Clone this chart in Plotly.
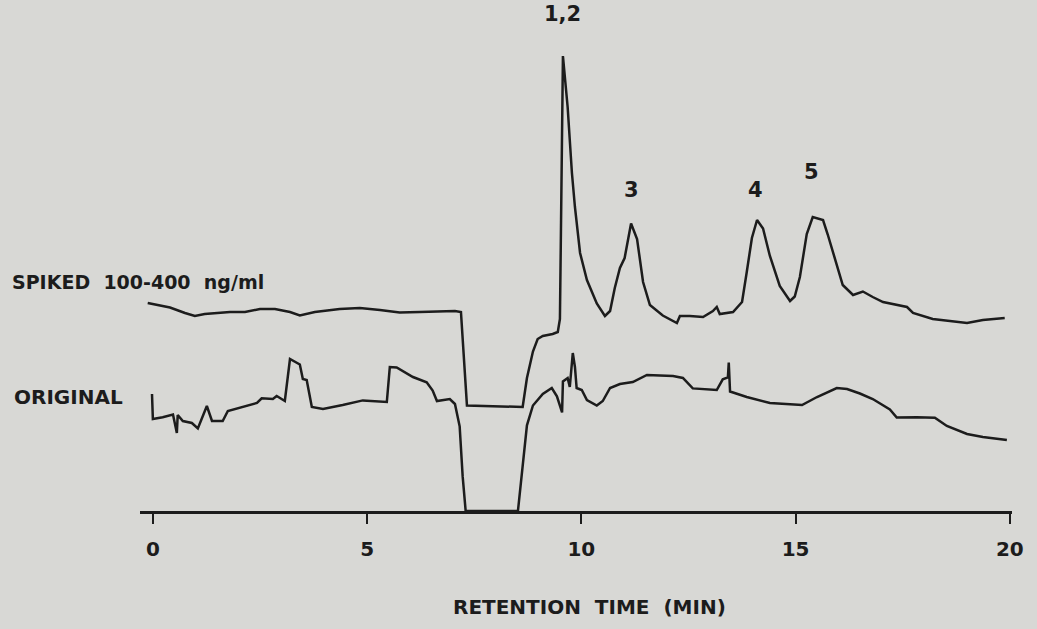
import plotly.graph_objects as go

# Retention time (min) and detector response (arbitrary units)
spiked_t = [-0.12, 0.40, 0.75, 0.98, 1.21, 1.80, 2.15, 2.50, 2.85, 3.20, 3.43, 3.78, 4.36, 4.83,
            5.30, 5.76, 6.23, 7.05, 7.19, 7.26, 7.33, 8.63, 8.73, 8.87, 8.98, 9.10, 9.33, 9.45,
            9.50, 9.57, 9.68, 9.78, 9.85, 9.97, 10.13, 10.36, 10.55, 10.67, 10.78, 10.90, 11.01,
            11.16, 11.30, 11.44, 11.60, 11.90, 12.23, 12.30, 12.53, 12.84, 13.07, 13.16, 13.23,
            13.54, 13.75, 13.86, 13.98, 14.10, 14.24, 14.40, 14.63, 14.87, 14.98, 15.10, 15.26,
            15.40, 15.64, 15.75, 15.96, 16.10, 16.34, 16.57, 16.80, 17.04, 17.60, 17.74, 18.20,
            19.00, 19.37, 19.88]
spiked_r = [208, 203.5, 198, 195, 197, 199, 199, 202, 202, 199, 195.5, 199, 202, 203,
            201, 198.5, 199, 200, 199, 155, 105.5, 104, 133, 159.5, 172, 175, 177, 179,
            192, 455, 404, 338, 304, 258, 231, 207.5, 195, 200, 223, 243, 253,
            287.5, 272, 229, 206, 195.5, 188, 195, 195, 194, 200, 204, 197,
            199, 209, 239, 273, 291, 282.5, 255, 225, 210, 214.5, 234, 277,
            294, 291, 276.5, 246, 226, 216, 219.5, 214, 209, 204, 198, 192,
            188, 191, 193]

original_t = [-0.02, 0.00, 0.23, 0.47, 0.56, 0.58, 0.70, 0.91, 1.05, 1.17, 1.26, 1.38, 1.63,
              1.75, 2.03, 2.43, 2.54, 2.80, 2.89, 3.08, 3.20, 3.43, 3.50, 3.59, 3.71, 3.97,
              4.43, 4.90, 5.46, 5.53, 5.69, 6.07, 6.39, 6.53, 6.63, 6.93, 7.05, 7.16, 7.23,
              7.30, 8.52, 8.61, 8.73, 8.87, 9.10, 9.31, 9.43, 9.55, 9.57, 9.68, 9.73, 9.80,
              9.85, 9.89, 10.01, 10.13, 10.36, 10.50, 10.67, 10.90, 11.20, 11.53, 11.83, 12.14,
              12.37, 12.60, 13.16, 13.30, 13.42, 13.44, 13.47, 13.86, 14.40, 15.15, 15.50,
              15.96, 16.20, 16.50, 16.80, 17.20, 17.36, 17.83, 18.25, 18.53, 19.00, 19.37, 19.93]
original_r = [117, 92, 93.7, 96.4, 78, 96, 90, 88, 82.6, 94.5, 105, 90, 90,
              100, 103, 108, 112.7, 112, 115, 110, 152, 146.5, 132, 131, 104, 102,
              106, 110.6, 109, 144, 143.6, 134, 128.7, 120.5, 110, 112, 107, 84.7, 34.6,
              0, 0, 40, 85.7, 105.5, 117, 123, 114.7, 98.6, 129.6, 133, 124, 158,
              144, 123, 121, 111, 105.5, 110, 123, 127, 129, 136, 135.6, 135,
              133, 122.6, 121, 131.7, 133.6, 148.5, 119.5, 114, 108, 106, 114,
              123, 122, 117.5, 112, 101.6, 93.4, 93.8, 93.3, 85, 77, 74, 71]

tick_vals = [0, 5, 10, 15, 20]
tick_text = ["0", "5", "10", "15", "20"]

peak_labels = ["1,2", "3", "4", "5"]
peak_t = [9.57, 11.16, 14.07, 15.38]
peak_label_r = [497, 321, 321, 339]

trace_names = ["SPIKED 100-400 ng/ml", "ORIGINAL"]
trace_label_r = [229, 114]

INK = "#1c1c1c"
PAPER = "#d8d8d5"
FONT = "DejaVu Sans"

fig = go.Figure()
fig.add_trace(go.Scatter(x=spiked_t, y=spiked_r, mode="lines",
                         line=dict(color=INK, width=2.5), name=trace_names[0],
                         hoverinfo="skip"))
fig.add_trace(go.Scatter(x=original_t, y=original_r, mode="lines",
                         line=dict(color=INK, width=2.5), name=trace_names[1],
                         hoverinfo="skip"))

for lab, t, r in zip(peak_labels, peak_t, peak_label_r):
    fig.add_annotation(x=t, y=r, xref="x", yref="y", text=lab, showarrow=False,
                       font=dict(family=FONT, size=21, color=INK, weight="bold"),
                       xanchor="center", yanchor="middle")

fig.add_annotation(x=-0.149, y=trace_label_r[0], xref="paper", yref="y",
                   text="SPIKED  100-400  ng/ml", showarrow=False,
                   font=dict(family=FONT, size=19, color=INK, weight="bold"),
                   xanchor="left", yanchor="middle")
fig.add_annotation(x=-0.147, y=trace_label_r[1], xref="paper", yref="y",
                   text="ORIGINAL", showarrow=False,
                   font=dict(family=FONT, size=20, color=INK, weight="bold"),
                   xanchor="left", yanchor="middle")

fig.add_annotation(x=0.516, y=-0.188, xref="paper", yref="paper",
                   text="RETENTION  TIME  (MIN)", showarrow=False,
                   font=dict(family=FONT, size=20, color=INK, weight="bold"),
                   xanchor="center", yanchor="middle")

fig.update_layout(
    width=1037, height=629,
    margin=dict(l=140, r=25, t=0, b=118),
    paper_bgcolor=PAPER, plot_bgcolor=PAPER,
    showlegend=False,
    xaxis=dict(range=[-0.3, 20.05], tickmode="array", tickvals=tick_vals, ticktext=tick_text,
               showgrid=False, zeroline=False, showline=True, linecolor=INK, linewidth=2.5,
               ticks="outside", ticklen=10, tickwidth=2, tickcolor=INK,
               ticklabelstandoff=8,
               tickfont=dict(family=FONT, size=20, color=INK, weight="bold")),
    yaxis=dict(range=[0, 511], visible=False, showgrid=False, zeroline=False),
)

fig.write_html("out.html")
